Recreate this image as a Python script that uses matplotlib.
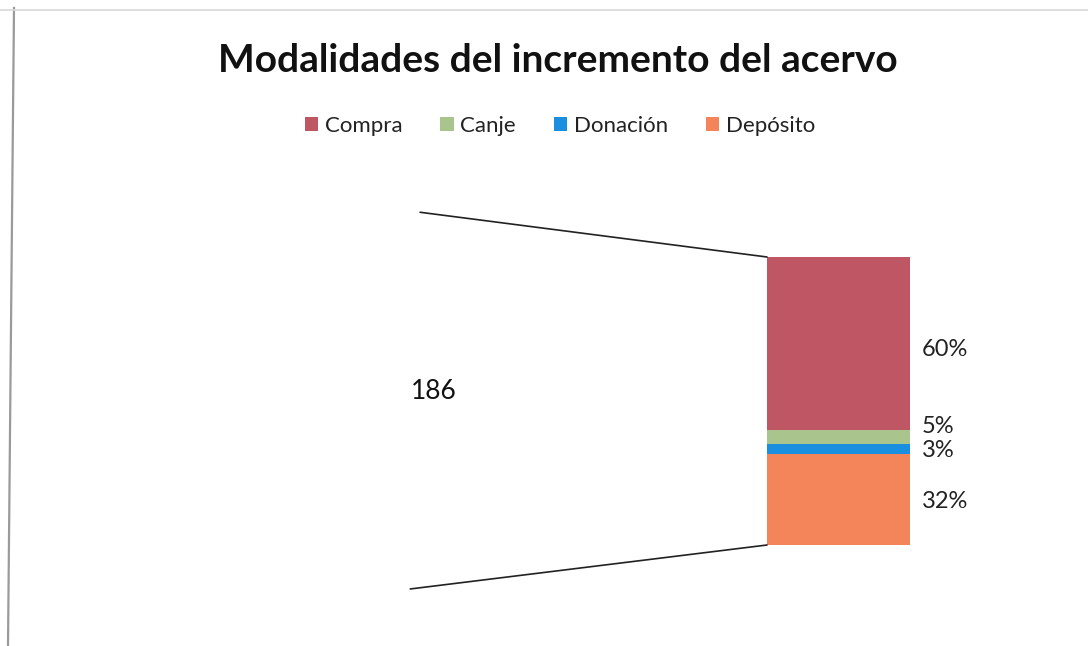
import numpy as np
import matplotlib
matplotlib.use("Agg")
import matplotlib.pyplot as plt
from matplotlib.patches import ConnectionPatch
from matplotlib.lines import Line2D

# datos
categorias = ['Compra', 'Canje', 'Donación', 'Depósito']
valores = [112, 9, 6, 59]
porcentajes = ['60%', '5%', '3%', '32%']
colores = ['#BE5663', '#A9C48C', '#1A8FE0', '#F4845A']
total = sum(valores)

plt.rcParams['font.family'] = ['Lato', 'DejaVu Sans']

fig = plt.figure(figsize=(10.88, 6.46), dpi=100)
W, H = 1088, 646

# borde del gráfico (recorte de la captura)
fig.add_artist(Line2D([14 / W, 8 / W], [1 - 8 / H, 0], color='#9a9a9a', lw=1.6))
fig.add_artist(Line2D([0, 1], [1 - 10 / H, 1 - 10 / H], color='#d8d8d8', lw=1.2))

fig.text(558 / W, 1 - 60 / H, 'Modalidades del incremento del acervo',
         ha='center', va='center', fontsize=28, fontweight='bold', color='#111111')

# pastel (sin relleno, toda la serie está en la barra)
cx, cy, r = 430, 401, 189
ax_pie = fig.add_axes([(cx - r) / W, 1 - (cy + r) / H, 2 * r / W, 2 * r / H])
ax_pie.pie([total], colors=['white'], radius=1, startangle=90)
ax_pie.set_xlim(-1, 1)
ax_pie.set_ylim(-1, 1)
ax_pie.text(0.02, 0.05, str(total), ha='center', va='center', fontsize=19, color='#111111')
ax_pie.axis('off')

# barra apilada
bx0, bx1, by0, by1 = 767, 910, 257, 545
ax_bar = fig.add_axes([bx0 / W, 1 - by1 / H, (bx1 - bx0) / W, (by1 - by0) / H])
abajo = total
ajustes_px = [6, -11, 2, 2]
for cat, v, p, c, dy in zip(categorias, valores, porcentajes, colores, ajustes_px):
    abajo -= v
    ax_bar.bar(0, v, bottom=abajo, width=1, color=c, label=cat)
    ax_bar.annotate(p, xy=(0.5, abajo + v / 2), xytext=(8.6, -dy * 0.72), textcoords='offset points',
                    ha='left', va='center', fontsize=17, color='#222222',
                    annotation_clip=False)
ax_bar.set_xlim(-0.5, 0.5)
ax_bar.set_ylim(0, total)
ax_bar.axis('off')

# líneas de conexión
for ang, yb in [(93, 1), (-96, 0)]:
    a = np.radians(ang)
    con = ConnectionPatch(xyA=(np.cos(a), np.sin(a)), coordsA=ax_pie.transData,
                          xyB=(0, yb), coordsB=ax_bar.transAxes,
                          color='#222222', lw=1.2)
    fig.add_artist(con)

handles, labels = ax_bar.get_legend_handles_labels()
fig.legend(handles, labels, loc='center', bbox_to_anchor=(560 / W, 1 - 126 / H),
           ncol=4, frameon=False, fontsize=16, handlelength=0.6, handleheight=0.6,
           handletextpad=0.3, columnspacing=1.7, labelcolor='#222222')

fig.savefig('out.png', dpi=100, facecolor='white')
